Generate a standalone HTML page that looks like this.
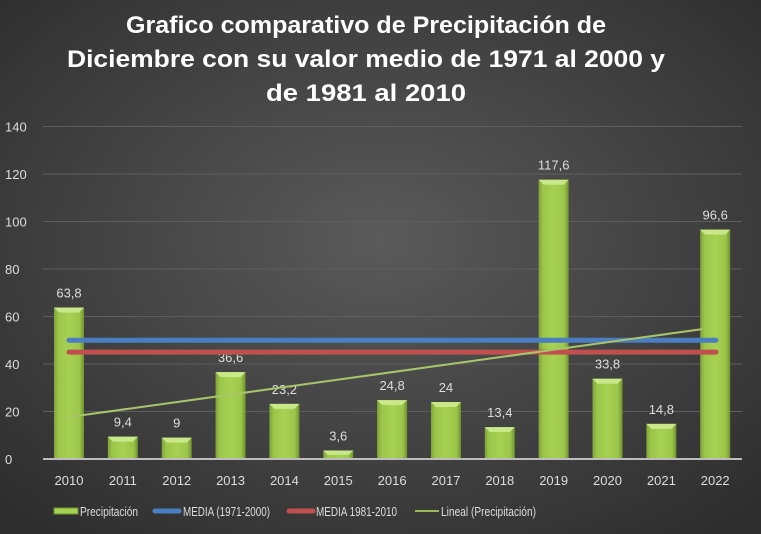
<!DOCTYPE html>
<html><head><meta charset="utf-8"><style>
html,body{margin:0;padding:0;}
body{width:761px;height:534px;overflow:hidden;background:#404040;}
svg{display:block;}
text{font-family:"Liberation Sans",sans-serif;}
</style></head><body>
<svg id="c" width="761" height="534" xmlns="http://www.w3.org/2000/svg">
<defs>
<radialGradient id="bg" cx="50%" cy="45%" r="70%">
<stop offset="0" stop-color="#5a5a5a"/><stop offset="1" stop-color="#2e2e2e"/>
</radialGradient>
<linearGradient id="bar" x1="0" x2="1" y1="0" y2="0">
<stop offset="0" stop-color="#7fa33a"/><stop offset="0.15" stop-color="#9cc64a"/>
<stop offset="0.5" stop-color="#a6d152"/><stop offset="0.85" stop-color="#9cc64a"/><stop offset="1" stop-color="#6f922f"/>
</linearGradient>
</defs>
<rect width="761" height="534" fill="url(#bg)"/>
<g fill="#fff" font-weight="bold" font-size="24" text-anchor="middle">
<text x="366" y="33" textLength="480" lengthAdjust="spacingAndGlyphs">Grafico comparativo de Precipitación de</text>
<text x="366" y="67" textLength="598" lengthAdjust="spacingAndGlyphs">Diciembre con su valor medio de 1971 al 2000 y</text>
<text x="366" y="101" textLength="200" lengthAdjust="spacingAndGlyphs">de 1981 al 2010</text>
</g>
<g id="grid"></g>
<g id="bars"></g>
<g id="legend" font-size="13" fill="#ddd">
<rect x="54" y="508" width="24" height="6" fill="#a6d152" stroke="#6f922f"/>
<text x="80" y="516" textLength="58" lengthAdjust="spacingAndGlyphs">Precipitación</text>
<line x1="155" y1="511" x2="179" y2="511" stroke="#4a7ec0" stroke-width="5" stroke-linecap="round"/>
<text x="183" y="516" textLength="87" lengthAdjust="spacingAndGlyphs">MEDIA (1971-2000)</text>
<line x1="289" y1="511" x2="313" y2="511" stroke="#c0504d" stroke-width="5" stroke-linecap="round"/>
<text x="316" y="516" textLength="81" lengthAdjust="spacingAndGlyphs">MEDIA 1981-2010</text>
<line x1="415" y1="511" x2="439" y2="511" stroke="#9bbb59" stroke-width="2"/>
<text x="441" y="516" textLength="95" lengthAdjust="spacingAndGlyphs">Lineal (Precipitación)</text>
</g>
</svg>
<script>
var NS="http://www.w3.org/2000/svg";
function el(p,t,a,txt){var e=document.createElementNS(NS,t);for(var k in a)e.setAttribute(k,a[k]);if(txt!=null)e.textContent=txt;p.appendChild(e);return e;}
var svg=document.getElementById('c'),g=document.getElementById('grid'),b=document.getElementById('bars');
function Y(v){return 459-v*2.375;}
for(var v=0;v<=140;v+=20){
 if(v>0)el(g,'line',{x1:43,x2:742,y1:Y(v),y2:Y(v),stroke:'#5e5e5e','stroke-width':1});
 el(g,'text',{x:5,y:Y(v)+5,'font-size':13,fill:'#ddd'},v);
}
var vals=[63.8,9.4,9,36.6,23.2,3.6,24.8,24,13.4,117.6,33.8,14.8,96.6];
var lbl=["63,8","9,4","9","36,6","23,2","3,6","24,8","24","13,4","117,6","33,8","14,8","96,6"];
for(var i=0;i<13;i++){
 var c=69+i*53.85,y=Y(vals[i]),x=c-15,w=30,h=459-y;
 el(b,'rect',{x:x,y:y,width:w,height:h,fill:'url(#bar)'});
 var bv=Math.min(5,h/2);
 el(b,'polygon',{points:x+','+y+' '+(x+w)+','+y+' '+(x+w-bv)+','+(y+bv)+' '+(x+bv)+','+(y+bv),fill:'#c8e88a'});
 el(b,'text',{x:c,y:459+26,'font-size':13,fill:'#ddd','text-anchor':'middle'},2010+i);
 el(b,'text',{x:c,y:y-10,'font-size':13,fill:'#ddd','text-anchor':'middle'},lbl[i]);
}
el(svg,'line',{x1:43,x2:742,y1:459,y2:459,stroke:'#bdbdbd','stroke-width':2});
el(svg,'line',{x1:69,x2:716,y1:Y(50),y2:Y(50),stroke:'#4a7ec0','stroke-width':5,'stroke-linecap':'round'});
el(svg,'line',{x1:69,x2:716,y1:Y(45),y2:Y(45),stroke:'#c0504d','stroke-width':5,'stroke-linecap':'round'});
el(svg,'line',{x1:69,x2:703,y1:417,y2:329,stroke:'#a9c46a','stroke-width':2});
</script>
</body></html>
